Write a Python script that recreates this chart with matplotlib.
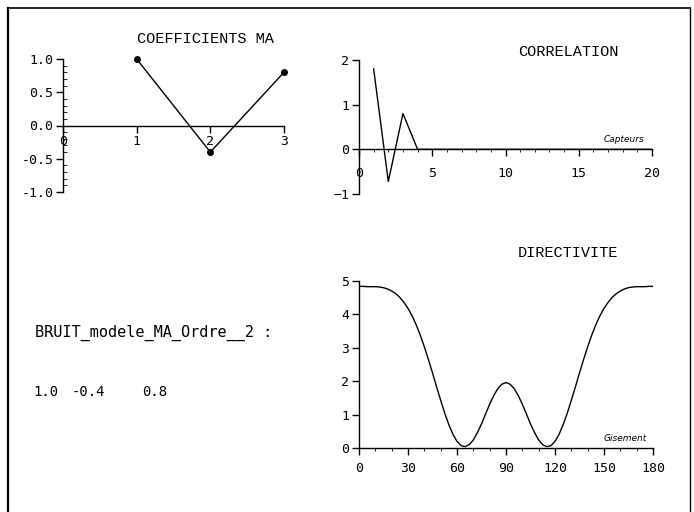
import matplotlib
matplotlib.use("Agg")
import matplotlib.pyplot as plt
from matplotlib.lines import Line2D
from matplotlib.ticker import MultipleLocator, FormatStrFormatter

W, H = 694, 512

# MA coefficients (order 2)
coef_x = [1, 2, 3]
coef_y = [1.0, -0.4, 0.8]

# correlation vs sensors
corr_x = list(range(1, 21))
corr_y = [1.8, -0.72, 0.8] + [0.0] * 17

# directivity vs bearing (degrees), every 2.5 deg
gis_x = [i * 2.5 for i in range(73)]
dir_y = [4.84, 4.84, 4.83, 4.83, 4.83, 4.82, 4.80, 4.76, 4.70, 4.62, 4.51, 4.36, 4.18,
         3.96, 3.69, 3.38, 3.03, 2.65, 2.25, 1.83, 1.43, 1.04, 0.70, 0.41, 0.20, 0.07,
         0.04, 0.10, 0.24, 0.46, 0.72, 1.02, 1.31, 1.57, 1.78, 1.91, 1.96,
         1.91, 1.78, 1.57, 1.31, 1.02, 0.72, 0.46, 0.24, 0.10, 0.04, 0.07, 0.20, 0.41,
         0.70, 1.04, 1.43, 1.83, 2.25, 2.65, 3.03, 3.38, 3.69, 3.96, 4.18, 4.36, 4.51,
         4.62, 4.70, 4.76, 4.80, 4.82, 4.83, 4.83, 4.83, 4.84, 4.84]

mono = "Liberation Mono"
tick_font = "DejaVu Sans Mono"


def rect(x0, y0, x1, y1):
    # pixel box (top-left origin) -> figure fraction
    return [x0 / W, 1 - y1 / H, (x1 - x0) / W, (y1 - y0) / H]


def style(ax):
    for s in ("top", "right"):
        ax.spines[s].set_visible(False)
    ax.spines["left"].set_linewidth(1.0)
    ax.spines["bottom"].set_linewidth(1.0)
    ax.patch.set_alpha(0)
    ax.tick_params(direction="out", length=5, width=1, labelsize=9.5, pad=2)
    for lab in ax.get_xticklabels() + ax.get_yticklabels():
        lab.set_family(tick_font)


fig = plt.figure(figsize=(W / 100, H / 100), dpi=100)

# outer frame
fig.add_artist(Line2D([8 / W, 8 / W], [1 - 8 / H, -0.05], transform=fig.transFigure, color="black", lw=1.6))
fig.add_artist(Line2D([8 / W, 690 / W], [1 - 8 / H, 1 - 8 / H], transform=fig.transFigure, color="black", lw=1.2))
fig.add_artist(Line2D([690 / W, 690 / W], [1 - 8 / H, -0.05], transform=fig.transFigure, color="black", lw=1.0))

# --- COEFFICIENTS MA ---
ax1 = fig.add_axes(rect(63, 59, 284, 192))
ax1.plot(coef_x, coef_y, color="black", lw=1.0, marker="o", ms=4, clip_on=False)
ax1.set_xlim(0, 3)
ax1.set_ylim(-1, 1)
ax1.spines["bottom"].set_position(("data", 0))
ax1.set_xticks([0, 1, 2, 3])
ax1.set_yticks([-1.0, -0.5, 0.0, 0.5, 1.0])
ax1.yaxis.set_major_formatter(FormatStrFormatter("%.1f"))
ax1.yaxis.set_minor_locator(MultipleLocator(0.1))
ax1.tick_params(axis="y", which="minor", direction="in", length=3)
style(ax1)
fig.text(205 / W, 1 - 39 / H, "COEFFICIENTS MA", family=mono, fontsize=11, ha="center", va="center")

# --- CORRELATION ---
ax2 = fig.add_axes(rect(359, 60, 652, 194))
ax2.plot(corr_x, corr_y, color="black", lw=1.0)
ax2.set_xlim(0, 20)
ax2.set_ylim(-1, 2)
ax2.spines["bottom"].set_position(("data", 0))
ax2.set_xticks([0, 5, 10, 15, 20])
ax2.set_yticks([-1, 0, 1, 2])
ax2.xaxis.set_minor_locator(MultipleLocator(1))
ax2.tick_params(axis="x", which="minor", direction="out", length=2)
style(ax2)
ax2.tick_params(axis="x", pad=8)
ax2.text(19.5, 0.12, "Capteurs", fontsize=6.5, style="italic", ha="right", va="bottom")
fig.text(568 / W, 1 - 52 / H, "CORRELATION", family=mono, fontsize=11, ha="center", va="center")

# --- DIRECTIVITE ---
ax3 = fig.add_axes(rect(359, 281, 653, 448))
ax3.plot(gis_x, dir_y, color="black", lw=1.0)
ax3.set_xlim(0, 180)
ax3.set_ylim(0, 5)
ax3.set_xticks([0, 30, 60, 90, 120, 150, 180])
ax3.set_yticks([0, 1, 2, 3, 4, 5])
ax3.xaxis.set_minor_locator(MultipleLocator(10))
ax3.tick_params(axis="x", which="minor", direction="out", length=2)
style(ax3)
ax3.tick_params(axis="x", pad=5)
ax3.text(176, 0.15, "Gisement", fontsize=6.5, style="italic", ha="right", va="bottom")
fig.text(568 / W, 1 - 253 / H, "DIRECTIVITE", family=mono, fontsize=11, ha="center", va="center")

# --- info text ---
fig.text(35 / W, 1 - 333 / H, "BRUIT_modele_MA_Ordre__2 :", family=tick_font, fontsize=11, ha="left", va="center")
for xp, v in zip([33, 72, 142], coef_y):
    fig.text(xp / W, 1 - 392 / H, f"{v:.1f}", family=tick_font, fontsize=10, ha="left", va="center")

fig.savefig("out.png", dpi=100)
